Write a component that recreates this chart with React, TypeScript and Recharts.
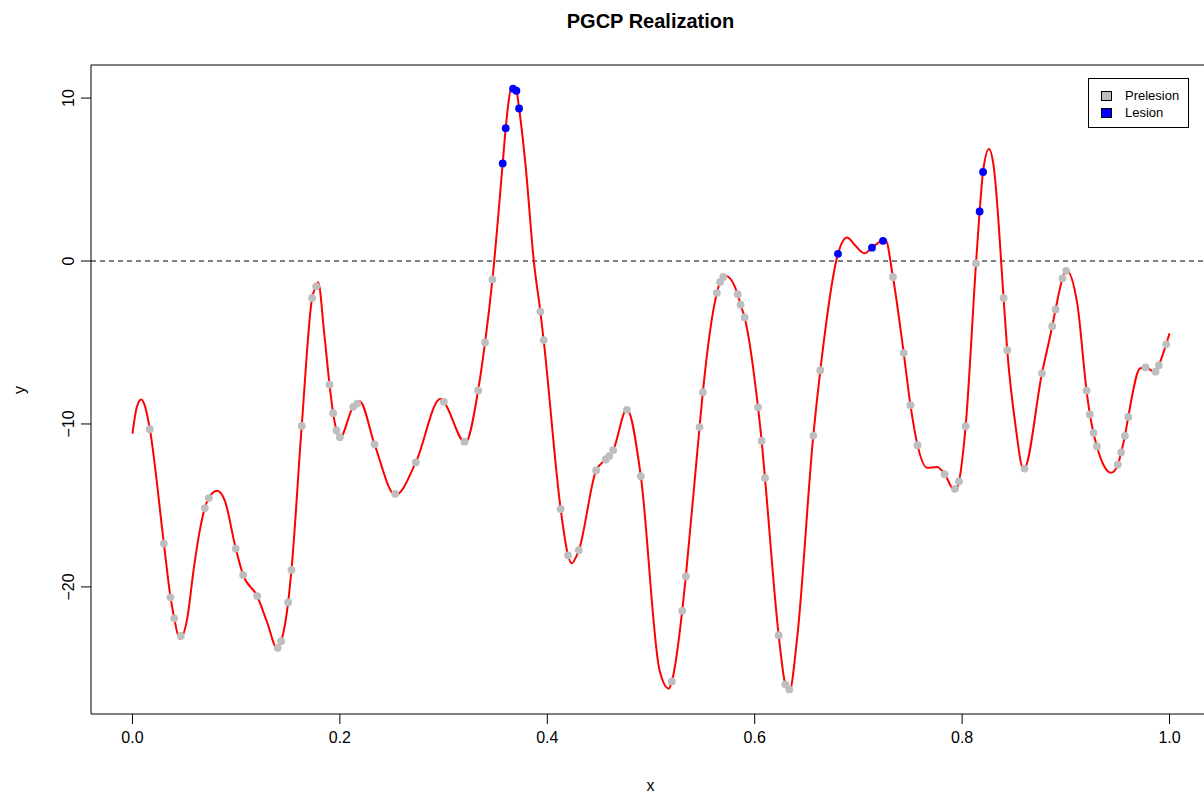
import { ComposedChart, Line, Scatter, XAxis, YAxis, ReferenceLine, ReferenceArea } from "recharts"

// realized curve
const curveX = [
    0.0, 0.004, 0.0084, 0.012, 0.0167, 0.0302, 0.0366, 0.0402, 0.0456, 0.0527, 0.0591, 0.0656,
    0.0697, 0.0736, 0.0816, 0.089, 0.0996, 0.1067, 0.1202, 0.13, 0.1395, 0.1434, 0.1501, 0.1533,
    0.1632, 0.1732, 0.1771, 0.179, 0.185, 0.19, 0.1935, 0.1967, 0.2, 0.2128, 0.2167, 0.219,
    0.2334, 0.2536, 0.2732, 0.297, 0.3002, 0.321, 0.3333, 0.34, 0.3471, 0.357, 0.3599, 0.366,
    0.3702, 0.3728, 0.379, 0.387, 0.3933, 0.3965, 0.4129, 0.42, 0.4233, 0.4304, 0.4471, 0.4564,
    0.4597, 0.4635, 0.4767, 0.4902, 0.5082, 0.5172, 0.5201, 0.5301, 0.5336, 0.5468, 0.55, 0.5635,
    0.5666, 0.5717, 0.5836, 0.5864, 0.5903, 0.6032, 0.6067, 0.6099, 0.6231, 0.6295, 0.6335, 0.6407,
    0.6565, 0.6633, 0.6803, 0.689, 0.697, 0.7059, 0.7131, 0.726, 0.7333, 0.7437, 0.7502, 0.757,
    0.7663, 0.776, 0.7831, 0.793, 0.797, 0.8034, 0.8134, 0.8169, 0.8202, 0.8259, 0.8303, 0.84,
    0.8435, 0.8515, 0.8593, 0.877, 0.8869, 0.8901, 0.8969, 0.9003, 0.911, 0.92, 0.9232, 0.9267,
    0.93, 0.937, 0.9435, 0.9502, 0.9534, 0.957, 0.9602, 0.9717, 0.9769, 0.9865, 0.9897, 0.9968, 1.0,
]
const curveY = [
    -10.6, -9.0, -8.5, -8.9, -10.3, -17.3, -20.6, -21.9, -23.2, -21.98, -18.88, -16.3,
    -15.17, -14.55, -14.1, -14.7, -17.65, -19.27, -20.56, -22.2, -23.78, -23.33, -20.95, -18.96,
    -10.12, -2.27, -1.55, -1.3, -4.5, -7.58, -9.34, -10.4, -10.85, -8.95, -8.75, -8.6,
    -11.25, -14.37, -12.36, -8.45, -8.64, -11.15, -7.94, -5.0, -1.13, 5.99, 8.15, 10.7,
    10.45, 9.36, 5.9, 0, -3.1, -4.85, -15.22, -18.06, -18.55, -17.75, -12.85, -12.18,
    -11.97, -11.61, -9.1, -13.21, -25.1, -26.24, -25.8, -21.47, -19.35, -10.19, -8.05, -1.96,
    -1.29, -0.9, -2.04, -2.68, -3.46, -8.98, -11.04, -13.31, -22.96, -25.98, -26.4, -23.27,
    -10.71, -6.7, 0.44, 1.44, 0.95, 0.47, 0.82, 1.3, -0.98, -5.65, -8.85, -11.3,
    -12.69, -12.64, -13.08, -14.1, -13.52, -10.14, -0.15, 3.04, 5.47, 6.87, 5.88, -2.27,
    -5.47, -10.1, -12.82, -6.89, -4.0, -2.97, -1.06, -0.55, -2.6, -7.95, -9.42, -10.55,
    -11.38, -12.6, -13.0, -12.49, -11.74, -10.73, -9.57, -6.58, -6.53, -6.85, -6.4, -5.11, -4.44,
]

// prelesion observations (grey)
const preX = [
    0.0167, 0.0302, 0.0366, 0.0402, 0.0466, 0.0697, 0.0736, 0.0996, 0.1067, 0.1202, 0.1401, 0.1434,
    0.1501, 0.1533, 0.1632, 0.1732, 0.1771, 0.19, 0.1935, 0.1967, 0.1999, 0.2128, 0.2167, 0.2334,
    0.2533, 0.2732, 0.3002, 0.3201, 0.3333, 0.34, 0.3471, 0.3933, 0.3965, 0.4129, 0.42, 0.4304,
    0.4471, 0.4564, 0.4597, 0.4635, 0.4767, 0.4902, 0.5201, 0.5301, 0.5336, 0.5468, 0.55, 0.5635,
    0.5666, 0.5697, 0.5836, 0.5864, 0.5903, 0.6032, 0.6067, 0.6099, 0.6231, 0.6295, 0.6334, 0.6565,
    0.6633, 0.7333, 0.7437, 0.7502, 0.757, 0.7831, 0.7931, 0.797, 0.8034, 0.8134, 0.84, 0.8435,
    0.8602, 0.877, 0.8869, 0.8901, 0.8969, 0.9003, 0.92, 0.9232, 0.9267, 0.93, 0.9502, 0.9534,
    0.957, 0.9602, 0.9769, 0.9865, 0.9897, 0.9968,
]
const preY = [
    -10.32, -17.34, -20.64, -21.93, -23.01, -15.17, -14.55, -17.65, -19.27, -20.56, -23.74, -23.33,
    -20.95, -18.96, -10.12, -2.27, -1.55, -7.58, -9.34, -10.4, -10.81, -8.95, -8.75, -11.25,
    -14.29, -12.36, -8.64, -11.09, -7.94, -5.0, -1.13, -3.1, -4.85, -15.22, -18.06, -17.75,
    -12.85, -12.18, -11.97, -11.61, -9.13, -13.21, -25.8, -21.47, -19.35, -10.19, -8.05, -1.96,
    -1.29, -0.98, -2.04, -2.68, -3.46, -8.98, -11.04, -13.31, -22.96, -25.98, -26.29, -10.71,
    -6.7, -0.98, -5.65, -8.85, -11.3, -13.08, -13.98, -13.52, -10.14, -0.15, -2.27, -5.47,
    -12.74, -6.89, -4.0, -2.97, -1.06, -0.6, -7.95, -9.42, -10.55, -11.38, -12.49, -11.74,
    -10.73, -9.57, -6.53, -6.79, -6.4, -5.11,
]

// lesion observations (blue)
const lesX = [0.357, 0.3599, 0.367, 0.3702, 0.3728, 0.6803, 0.7131, 0.7237, 0.8169, 0.8202]
const lesY = [5.99, 8.15, 10.58, 10.45, 9.36, 0.44, 0.82, 1.24, 3.04, 5.47]

const xTicks = [0, 0.2, 0.4, 0.6, 0.8, 1.0]
const yTicks = [-20, -10, 0, 10]

const legendItems = [
    { name: "Prelesion", color: "#BEBEBE" },
    { name: "Lesion", color: "#0000FF" },
]

const curve = curveX.map((x, i) => ({ x, y: curveY[i] }))
const prelesion = preX.map((x, i) => ({ x, y: preY[i] }))
const lesion = lesX.map((x, i) => ({ x, y: lesY[i] }))

const FONT = '"Liberation Sans", Arial, Helvetica, sans-serif'
const X_DOMAIN: [number, number] = [-0.04, 1.04]
const Y_DOMAIN: [number, number] = [-27.8, 12.03]

const dot = (fill: string) => (props: any) => (
    <circle cx={props.cx} cy={props.cy} r={3.9} fill={fill} />
)

function XTick(props: any) {
    const { x, y, payload } = props
    return (
        <text x={x} y={y + 17} textAnchor="middle" fontSize={16} fontFamily={FONT} fill="#000">
            {payload.value.toFixed(1)}
        </text>
    )
}

function YTick(props: any) {
    const { x, y, payload } = props
    const v = payload.value
    const label = v < 0 ? `\u2212${Math.abs(v)}` : `${v}`
    const cx = x - 11
    return (
        <text x={cx} y={y} textAnchor="middle" fontSize={16} fontFamily={FONT} fill="#000"
            transform={`rotate(-90, ${cx}, ${y})`} dy="0.35em">
            {label}
        </text>
    )
}

function LegendBox() {
    return (
        <div style={{
            position: "absolute", left: 1088, top: 78,
            border: "1px solid #000", width: 101, height: 50, boxSizing: "border-box",
            padding: "8px 0 0 12px", fontFamily: FONT, fontSize: 13, background: "#fff",
        }}>
            {legendItems.map((it) => (
                <div key={it.name} style={{ display: "flex", alignItems: "center", height: 17 }}>
                    <span style={{
                        display: "inline-block", width: 9, height: 8, background: it.color,
                        border: "1px solid #000", marginRight: 13,
                    }} />
                    <span>{it.name}</span>
                </div>
            ))}
        </div>
    )
}

export default function App() {
    return (
        <div style={{
            position: "absolute", left: 0, top: 0, width: 1204, height: 797,
            overflow: "hidden", background: "#fff",
        }}>
            <div style={{
                position: "absolute", left: 0, top: 10, width: 1301, textAlign: "center",
                fontFamily: FONT, fontWeight: "bold", fontSize: 20,
            }}>
                PGCP Realization
            </div>
            <div style={{
                position: "absolute", left: 0, top: 777, width: 1301, textAlign: "center",
                fontFamily: FONT, fontSize: 16,
            }}>
                x
            </div>
            <div style={{
                position: "absolute", left: 20, top: 390, fontFamily: FONT, fontSize: 16,
                transform: "translate(-50%, -50%) rotate(-90deg)",
            }}>
                y
            </div>

            <ComposedChart
                width={1222}
                height={797}
                margin={{ top: 65, right: 11, bottom: 0, left: 0 }}
                style={{ position: "absolute", left: 0, top: 0 }}
            >
                <XAxis
                    type="number"
                    dataKey="x"
                    domain={X_DOMAIN}
                    ticks={xTicks}
                    allowDataOverflow
                    axisLine={false}
                    tickLine={{ stroke: "#000" }}
                    tickSize={10}
                    height={83}
                    tick={<XTick />}
                    interval={0}
                />
                <YAxis
                    type="number"
                    dataKey="y"
                    domain={Y_DOMAIN}
                    ticks={yTicks}
                    allowDataOverflow
                    axisLine={false}
                    tickLine={{ stroke: "#000" }}
                    tickSize={10}
                    width={91}
                    tick={<YTick />}
                    interval={0}
                />
                <ReferenceArea
                    x1={X_DOMAIN[0]} x2={X_DOMAIN[1]} y1={Y_DOMAIN[0]} y2={Y_DOMAIN[1]}
                    fill="none" stroke="#000" strokeWidth={1} fillOpacity={0}
                />
                <ReferenceLine y={0} stroke="#000" strokeDasharray="5 4" strokeWidth={1} />
                <Line
                    data={curve}
                    dataKey="y"
                    type="monotone"
                    stroke="#FF0000"
                    strokeWidth={2}
                    dot={false}
                    activeDot={false}
                    isAnimationActive={false}
                />
                <Scatter data={prelesion} dataKey="y" shape={dot("#BEBEBE")} isAnimationActive={false} />
                <Scatter data={lesion} dataKey="y" shape={dot("#0000FF")} isAnimationActive={false} />
            </ComposedChart>

            <LegendBox />
        </div>
    )
}
